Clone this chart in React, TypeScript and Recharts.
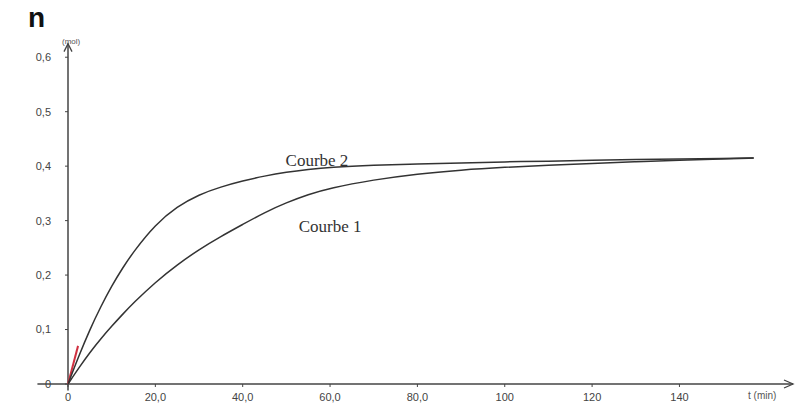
import { LineChart, Line, XAxis, YAxis, ReferenceLine, ReferenceDot } from "recharts";

// time (min)
const times = [0, 2.5, 5, 7.5, 10, 12.5, 15, 20, 25, 30, 35, 40, 45, 50, 55, 60, 70, 80, 90, 100, 110, 120, 130, 140, 150, 157];
// n (mol)
const courbe1 = [0, 0.03, 0.058, 0.083, 0.106, 0.128, 0.149, 0.187, 0.219, 0.247, 0.271, 0.293, 0.315, 0.333, 0.348, 0.36, 0.375, 0.386, 0.393, 0.398, 0.402, 0.405, 0.408, 0.411, 0.413, 0.415];
const courbe2 = [0, 0.052, 0.1, 0.142, 0.18, 0.213, 0.243, 0.293, 0.326, 0.348, 0.362, 0.373, 0.382, 0.389, 0.394, 0.398, 0.402, 0.404, 0.406, 0.408, 0.409, 0.411, 0.412, 0.413, 0.414, 0.415];

const xTicks = [0, 20, 40, 60, 80, 100, 120, 140];
const xTickLabels = ["0", "20,0", "40,0", "60,0", "80,0", "100", "120", "140"];
const yTicks = [0, 0.1, 0.2, 0.3, 0.4, 0.5, 0.6];
const yTickLabels = ["0", "0,1", "0,2", "0,3", "0,4", "0,5", "0,6"];

const data = times.map((t, i) => ({ t, c1: courbe1[i], c2: courbe2[i] }));

const AXIS = "#444";
const TICK_FONT = { fontSize: 11, fill: "#444", fontFamily: "Liberation Sans, Arial, sans-serif" };

// little open arrow heads at the end of the axes
const ArrowUp = (p: any) => (
  <path d={`M${p.cx - 4},${p.cy + 8} L${p.cx},${p.cy} L${p.cx + 4},${p.cy + 8}`} fill="none" stroke={AXIS} strokeWidth={1.3} />
);
const ArrowRight = (p: any) => (
  <path d={`M${p.cx - 9},${p.cy - 4} L${p.cx},${p.cy} L${p.cx - 9},${p.cy + 4}`} fill="none" stroke={AXIS} strokeWidth={1.3} />
);

const CurveLabel = (text: string) => (p: any) => (
  <text x={p.cx} y={p.cy} textAnchor="middle" fontFamily="Liberation Serif, Times New Roman, serif" fontSize={17} fill="#333">
    {text}
  </text>
);

export default function App() {
  return (
    <div style={{ position: "absolute", left: 0, top: 0, width: 800, height: 413, background: "#fff" }}>
      <LineChart width={800} height={413} data={data} margin={{ top: 30, right: 7, bottom: 0, left: 0 }}>
        <XAxis
          dataKey="t"
          type="number"
          domain={[0, 166]}
          ticks={xTicks}
          tickFormatter={(v: number) => xTickLabels[xTicks.indexOf(v)] ?? String(v)}
          axisLine={false}
          tickLine={{ stroke: AXIS }}
          tickSize={3}
          tickMargin={6}
          height={29}
          tick={TICK_FONT}
          allowDataOverflow
        />
        <YAxis
          type="number"
          domain={[0, 0.65]}
          ticks={yTicks}
          tickFormatter={(v: number) => yTickLabels[yTicks.indexOf(v)] ?? String(v)}
          axisLine={false}
          tickLine={{ stroke: AXIS }}
          tickSize={3}
          tickMargin={14}
          width={68}
          tick={TICK_FONT}
          allowDataOverflow
        />
        <ReferenceLine segment={[{ x: -7, y: 0 }, { x: 166, y: 0 }]} stroke={AXIS} strokeWidth={1.5} ifOverflow="visible" />
        <ReferenceLine segment={[{ x: 0, y: -0.012 }, { x: 0, y: 0.625 }]} stroke={AXIS} strokeWidth={1.5} ifOverflow="visible" />
        <ReferenceDot x={0} y={0.625} r={0} shape={ArrowUp} ifOverflow="visible" />
        <ReferenceDot x={166} y={0} r={0} shape={ArrowRight} ifOverflow="visible" />
        <ReferenceLine segment={[{ x: 0, y: 0 }, { x: 2.3, y: 0.07 }]} stroke="#d03040" strokeWidth={2} ifOverflow="visible" />
        <Line type="basis" dataKey="c1" stroke="#333" strokeWidth={1.5} dot={false} isAnimationActive={false} />
        <Line type="basis" dataKey="c2" stroke="#333" strokeWidth={1.5} dot={false} isAnimationActive={false} />
        <ReferenceDot x={57} y={0.4} r={0} shape={CurveLabel("Courbe 2")} ifOverflow="visible" />
        <ReferenceDot x={60} y={0.279} r={0} shape={CurveLabel("Courbe 1")} ifOverflow="visible" />
      </LineChart>
      <div style={{ position: "absolute", left: 28, top: 2, fontFamily: "Liberation Sans, Arial, sans-serif", fontWeight: "bold", fontSize: 28, color: "#111" }}>
        n
      </div>
      <div style={{ position: "absolute", left: 62, top: 37, fontFamily: "Liberation Sans, Arial, sans-serif", fontSize: 8, color: "#555" }}>
        (mol)
      </div>
      <div style={{ position: "absolute", left: 748, top: 390, fontFamily: "Liberation Sans, Arial, sans-serif", fontSize: 10, color: "#555" }}>
        t (min)
      </div>
    </div>
  );
}
